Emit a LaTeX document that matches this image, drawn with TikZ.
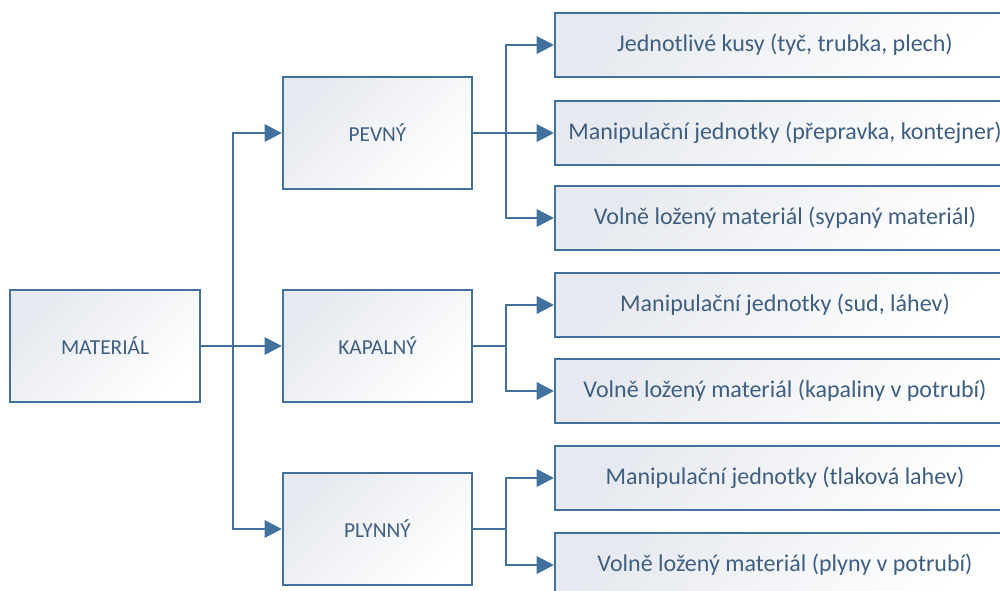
\documentclass[tikz,border=0pt]{standalone}
\usepackage{fontspec}
\setmainfont{Carlito}
\usetikzlibrary{arrows.meta}
\definecolor{edgeblue}{HTML}{41719C}
\definecolor{textblue}{HTML}{3E5F82}
\definecolor{fillgray}{HTML}{E6E9EF}
\tikzset{
  box/.style={rectangle, draw=edgeblue, line width=1.5pt, shading=axis,
    top color=fillgray, bottom color=white, shading angle=45,
    text=textblue, inner sep=0pt},
  mainbox/.style={box, minimum width=142pt, minimum height=84pt,
    font=\fontsize{16}{19}\selectfont},
  leafbox/.style={box, minimum width=345pt, minimum height=48pt,
    font=\fontsize{18}{21}\selectfont},
  link/.style={draw=edgeblue, line width=1.9pt},
  arr/.style={link, -{Triangle[length=13pt,width=13pt]}}
}
\begin{document}
\begin{tikzpicture}[x=0.75pt, y=-0.75pt]
  \useasboundingbox (0,0) rectangle (1000,590);
  \clip (0,0) rectangle (1000,590);

  % first level
  \node[mainbox] (mat) at (105,346) {MATERIÁL};
  \node[mainbox] (pev) at (377.5,133) {PEVNÝ};
  \node[mainbox] (kap) at (377.5,346) {KAPALNÝ};
  \node[mainbox] (ply) at (377.5,529) {PLYNNÝ};

  % second level
  \node[leafbox] (r1) at (785,45)  {Jednotlivé kusy (tyč, trubka, plech)};
  \node[leafbox] (r2) at (785,133) {Manipulační jednotky (přepravka, kontejner)};
  \node[leafbox] (r3) at (785,218) {Volně ložený materiál (sypaný materiál)};
  \node[leafbox] (r4) at (785,305) {Manipulační jednotky (sud, láhev)};
  \node[leafbox] (r5) at (785,391) {Volně ložený materiál (kapaliny v potrubí)};
  \node[leafbox] (r6) at (785,478) {Manipulační jednotky (tlaková lahev)};
  \node[leafbox] (r7) at (785,565) {Volně ložený materiál (plyny v potrubí)};

  % junction points
  \coordinate (j1) at (233,346);
  \coordinate (j2) at (506,133);
  \coordinate (j3) at (506,346);
  \coordinate (j4) at (506,529);

  % connectors from MATERIÁL
  \draw[arr] (mat.east) -- (kap.west);
  \draw[arr] (j1) |- (pev.west);
  \draw[arr] (j1) |- (ply.west);

  % connectors from PEVNÝ
  \draw[arr] (pev.east) -- (r2.west);
  \draw[arr] (j2) |- (r1.west);
  \draw[arr] (j2) |- (r3.west);

  % connectors from KAPALNÝ
  \draw[link] (kap.east) -- (j3);
  \draw[arr] (j3) |- (r4.west);
  \draw[arr] (j3) |- (r5.west);

  % connectors from PLYNNÝ
  \draw[link] (ply.east) -- (j4);
  \draw[arr] (j4) |- (r6.west);
  \draw[arr] (j4) |- (r7.west);
\end{tikzpicture}
\end{document}
